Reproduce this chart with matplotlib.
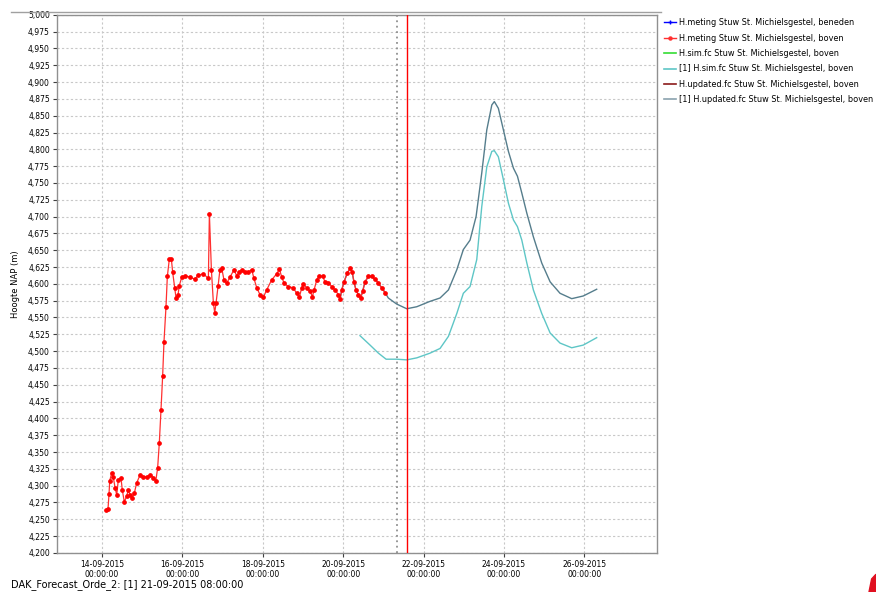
import matplotlib
matplotlib.use("Agg")
import matplotlib.pyplot as plt
from matplotlib.lines import Line2D
from matplotlib.patches import Polygon
from matplotlib.ticker import FuncFormatter, MultipleLocator
from datetime import datetime, timedelta

plt.rcParams['font.family'] = ['DejaVu Sans']

BASE = datetime(2015, 9, 14)

# measured upstream water level: hours since 14-09-2015 00:00, level (m NAP)
meas_h = [2.4, 3.6, 4.2, 4.6, 5.8, 6.7, 7.8, 8.8, 9.7, 11.3, 12.1, 13.3, 14.7, 15.7,
          16.7, 18.1, 19.3, 20.7, 22.7, 24.7, 26.7, 28.7, 30.6, 32.1, 33.2, 34.2,
          35.2, 36.2, 37.0, 38.2, 39.0, 40.2, 41.4, 42.2, 43.4, 44.2, 45.4, 46.1,
          47.6, 49.6, 52.5, 55.5, 57.5, 60.5, 63.5, 64.1, 65.3, 66.5, 67.3, 68.1,
          69.3, 70.4, 71.5, 72.8, 74.4, 76.4, 78.8, 80.4, 82.0, 83.4, 85.4, 87.3,
          89.4, 90.7, 92.4, 94.3, 96.3, 98.3, 101.3, 104.3, 105.9, 107.3, 108.7,
          111.2, 114.2, 116.2, 117.8, 119.2, 120.2, 122.2, 124.2, 125.6, 126.6,
          128.2, 129.7, 131.8, 133.1, 135.1, 137.1, 139.1, 141.1, 142.1, 143.1,
          144.5, 146.4, 148.1, 149.3, 150.4, 151.6, 153.0, 154.4, 155.6, 157.0,
          159.0, 161.0, 163.0, 165.0, 167.0, 169.0]
meas_v = [4.264, 4.266, 4.288, 4.307, 4.319, 4.313, 4.297, 4.286, 4.308, 4.312, 4.294,
          4.276, 4.284, 4.294, 4.286, 4.282, 4.289, 4.304, 4.316, 4.313, 4.313, 4.316,
          4.312, 4.307, 4.326, 4.363, 4.412, 4.463, 4.514, 4.566, 4.611, 4.637, 4.637,
          4.617, 4.594, 4.579, 4.584, 4.597, 4.610, 4.612, 4.610, 4.607, 4.613, 4.615,
          4.608, 4.704, 4.621, 4.571, 4.557, 4.572, 4.597, 4.621, 4.623, 4.606, 4.601,
          4.610, 4.621, 4.612, 4.618, 4.620, 4.617, 4.618, 4.621, 4.608, 4.594, 4.584,
          4.580, 4.591, 4.606, 4.615, 4.622, 4.610, 4.601, 4.596, 4.594, 4.586, 4.580,
          4.594, 4.600, 4.594, 4.589, 4.581, 4.591, 4.606, 4.612, 4.611, 4.603, 4.602,
          4.596, 4.591, 4.584, 4.577, 4.591, 4.603, 4.616, 4.623, 4.618, 4.603, 4.591,
          4.584, 4.579, 4.589, 4.603, 4.611, 4.611, 4.607, 4.601, 4.594, 4.587]

# [1] H.updated.fc
upd_h = [142.1, 143.1, 144.5, 146.4, 148.1, 149.3, 150.4, 151.6, 153.0, 154.4, 155.6,
         157.0, 159.0, 161.0, 163.0, 165.0, 167.0, 169.0, 170.9, 175.9, 181.9, 187.9,
         195.8, 201.8, 206.8, 211.8, 215.7, 219.7, 223.3, 226.7, 229.7, 232.7, 234.2,
         236.6, 239.6, 242.6, 245.6, 248.0, 250.6, 253.6, 257.5, 262.5, 267.5, 273.4,
         280.4, 287.3, 295.3]
upd_v = [4.577, 4.591, 4.603, 4.616, 4.623, 4.618, 4.603, 4.591, 4.584, 4.579, 4.589,
         4.603, 4.611, 4.611, 4.607, 4.601, 4.594, 4.587, 4.579, 4.570, 4.563, 4.566,
         4.574, 4.579, 4.591, 4.621, 4.651, 4.665, 4.700, 4.765, 4.829, 4.866, 4.871,
         4.861, 4.829, 4.797, 4.772, 4.760, 4.735, 4.705, 4.670, 4.631, 4.603, 4.586,
         4.578, 4.582, 4.592]

# [1] H.sim.fc
sim_h = [154.0, 160.0, 165.0, 169.6, 175.9, 181.9, 187.9, 195.8, 201.8, 206.8, 211.8,
         215.7, 219.7, 223.7, 226.7, 229.7, 232.7, 234.2, 236.6, 239.6, 242.6, 245.6,
         248.0, 250.6, 253.6, 257.5, 262.5, 267.5, 273.4, 280.4, 287.3, 295.3]
sim_v = [4.523, 4.509, 4.497, 4.488, 4.488, 4.487, 4.490, 4.497, 4.504, 4.522, 4.556,
         4.586, 4.596, 4.636, 4.715, 4.774, 4.797, 4.798, 4.789, 4.755, 4.720, 4.695,
         4.685, 4.665, 4.631, 4.591, 4.556, 4.527, 4.512, 4.505, 4.509, 4.520]

legend_labels = [
    "H.meting Stuw St. Michielsgestel, beneden",
    "H.meting Stuw St. Michielsgestel, boven",
    "H.sim.fc Stuw St. Michielsgestel, boven",
    "[1] H.sim.fc Stuw St. Michielsgestel, boven",
    "H.updated.fc Stuw St. Michielsgestel, boven",
    "[1] H.updated.fc Stuw St. Michielsgestel, boven",
]
x_tick_days = [14, 16, 18, 20, 22, 24, 26]
forecast_t0_h = 176   # 21-09-2015 08:00
now_h = 182           # 21-09-2015 14:00


def T(hs):
    return [BASE + timedelta(hours=h) for h in hs]


fig = plt.figure(figsize=(8.76, 5.92), dpi=100)
ax = fig.add_axes([0.065, 0.066, 0.685, 0.909])

c_upd = "#557d8c"
c_sim = "#5ec6c6"
ax.plot(T(upd_h), upd_v, color=c_upd, lw=1.0, zorder=3)
ax.plot(T(sim_h), sim_v, color=c_sim, lw=1.0, zorder=3)
ax.plot(T(meas_h), meas_v, color="#ff3030", lw=0.9, marker="o", ms=2.4,
        mfc="#ff0000", mec="#ff0000", zorder=4)

ax.axvline(BASE + timedelta(hours=forecast_t0_h), color="#909090", lw=1.3,
           ls=(0, (1, 2)), zorder=2)
ax.axvline(BASE + timedelta(hours=now_h), color="#ff0000", lw=1.0, zorder=5)

ax.set_xlim(BASE - timedelta(hours=26.9), BASE + timedelta(hours=331.3))
ax.set_ylim(4.2, 5.0)
ax.yaxis.set_major_locator(MultipleLocator(0.025))
ax.yaxis.set_major_formatter(FuncFormatter(lambda v, p: f"{v:.3f}".replace(".", ",")))
ax.set_xticks([datetime(2015, 9, d) for d in x_tick_days])
ax.set_xticklabels([f"{d:02d}-09-2015\n00:00:00" for d in x_tick_days],
                   linespacing=1.1)

ax.tick_params(axis="both", labelsize=5.5, length=3, width=0.8, colors="#404040",
               labelcolor="black", pad=2)
ax.grid(True, color="#c8c8c8", ls=(0, (2, 2)), lw=0.8)
for s in ax.spines.values():
    s.set_color("#909090")
    s.set_linewidth(1.0)
ax.set_ylabel("Hoogte NAP (m)", fontsize=6, labelpad=6)

handles = [
    Line2D([], [], color="#0000ff", marker="+", ms=3, lw=1),
    Line2D([], [], color="#ff3030", marker="o", ms=2.2, lw=1),
    Line2D([], [], color="#33dd33", lw=1.2),
    Line2D([], [], color="#5ec6c6", lw=1.2),
    Line2D([], [], color="#8b1a1a", lw=1.2),
    Line2D([], [], color="#8aa2ae", lw=1.2),
]
fig.legend(handles, legend_labels, loc="upper left", bbox_to_anchor=(0.756, 0.972),
           frameon=False, fontsize=5.9, handlelength=1.5, handletextpad=0.3,
           labelspacing=0.78, borderaxespad=0, borderpad=0.2)

# window top border line
fig.add_artist(Line2D([0.012, 0.755], [0.979, 0.979], transform=fig.transFigure,
                      color="#a0a0a0", lw=1.0))

fig.text(0.012, 0.003, "DAK_Forecast_Orde_2: [1] 21-09-2015 08:00:00", fontsize=7.0,
         ha="left", va="bottom")

# small red corner mark
fig.add_artist(Polygon([[0.992, 0.0], [1.0, 0.0], [1.0, 0.03], [0.995, 0.022]],
                       closed=True, transform=fig.transFigure, color="#e01020"))

fig.savefig("out.png", dpi=100)
